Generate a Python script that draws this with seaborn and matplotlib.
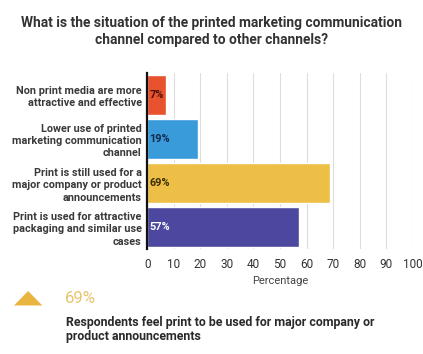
#!/usr/bin/env python3
"""
Horizontal bar chart: situation of the printed marketing communication channel.
"""
import seaborn as sns
import matplotlib.pyplot as plt
import matplotlib.patches as mpatches
import pandas as pd

categories = ["Non print media are more\nattractive and effective",
              "Lower use of printed\nmarketing communication\nchannel",
              "Print is still used for a\nmajor company or product\nannouncements",
              "Print is used for attractive\npackaging and similar use\ncases"]
values = [7, 19, 69, 57]
bar_colors = ["#E9522F", "#3A9BDA", "#EDBF47", "#4C489F"]
label_colors = ["#4a1208", "#14284a", "#3a2c05", "#ffffff"]
x_ticks = list(range(0, 101, 10))

sns.set_theme(style="white")
plt.rcParams["font.family"] = ["Roboto", "DejaVu Sans"]

data = pd.DataFrame({"category": categories, "value": values})

fig = plt.figure(figsize=(4.23, 3.54), dpi=100)
ax = fig.add_axes([0.348, 0.2955, 0.628, 0.4995])
sns.barplot(data=data, x="value", y="category", hue="category",
            palette=bar_colors, legend=False, width=0.9, orient="h",
            saturation=1, ax=ax)

for i, (v, c) in enumerate(zip(values, label_colors)):
    ax.text(0.8, i, f"{v}%", va="center", ha="left", fontsize=7.8,
            fontweight="bold", color=c)

ax.set_xlim(0, 100)
ax.set_xticks(x_ticks)
ax.xaxis.grid(True, color="#dddddd", linewidth=0.8)
ax.set_axisbelow(True)
sns.despine(ax=ax, top=True, right=True, bottom=True)
ax.spines["left"].set_color("#111111")
ax.spines["left"].set_linewidth(1.6)
ax.tick_params(axis="both", length=0)
ax.tick_params(axis="x", labelsize=8.5, labelcolor="#333333", pad=6)
ax.tick_params(axis="y", labelsize=7.8, labelcolor="#3a3a3a", pad=4)
for lbl in ax.get_yticklabels():
    lbl.set_fontweight("bold")
    lbl.set_linespacing(1.3)
ax.set_xlabel("Percentage", fontsize=8, color="#444444", labelpad=4)
ax.set_ylabel("")

fig.text(0.5, 0.955, "What is the situation of the printed marketing communication\n"
         "channel compared to other channels?", ha="center", va="top",
         fontsize=9.9, fontweight="bold", color="#333333", linespacing=1.3)

tri = mpatches.Polygon([(0.033, 0.137), (0.100, 0.137), (0.0665, 0.178)],
                       closed=True, transform=fig.transFigure,
                       color="#E8B640", linewidth=0)
fig.patches.append(tri)
fig.text(0.153, 0.158, "69%", ha="left", va="center", fontsize=12,
         color="#E8C46E")
fig.text(0.157, 0.069, "Respondents feel print to be used for major company or\n"
         "product announcements", ha="left", va="center", fontsize=8.9,
         fontweight="bold", color="#2a2a2a", linespacing=1.15)

fig.savefig("out.png", dpi=100)
